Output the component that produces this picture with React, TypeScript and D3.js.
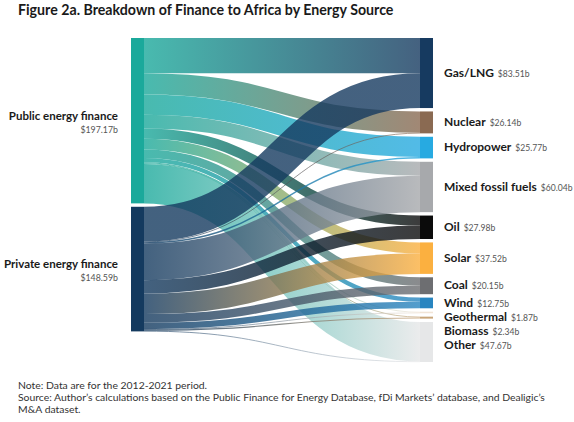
import { useEffect, useRef } from 'react';
import * as d3 from 'd3';

const title = 'Figure 2a. Breakdown of Finance to Africa by Energy Source';

const sources = ['Public energy finance', 'Private energy finance'];
const sourceTotals = ['$197.17b', '$148.59b'];
const sourceColors = ['#1ba99b', '#143a5f'];

const targets = ['Gas/LNG', 'Nuclear', 'Hydropower', 'Mixed fossil fuels', 'Oil', 'Solar', 'Coal', 'Wind', 'Geothermal', 'Biomass', 'Other'];
const targetTotals = ['$83.51b', '$26.14b', '$25.77b', '$60.04b', '$27.98b', '$37.52b', '$20.15b', '$12.75b', '$1.87b', '$2.34b', '$47.67b'];
const targetColors = ['#163a60', '#8a6a52', '#27aae1', '#a7a9ac', '#0b0b0b', '#fbb040', '#6d6e71', '#2885c0', '#f1e4d6', '#c8a57a', '#e6e7e8'];

// flows per target, same order as targets
const publicFlows = [42.0, 25.5, 24.0, 16.5, 12.0, 13.0, 10.0, 5.0, 1.2, 1.0, 46.97];
const privateFlows = [41.51, 0.64, 1.77, 43.54, 15.98, 24.52, 10.15, 7.75, 0.67, 1.34, 0.7];

const notes = [
  'Note: Data are for the 2012-2021 period.',
  "Source: Author\u2019s calculations based on the Public Finance for Energy Database, fDi Markets\u2019 database, and Dealigic\u2019s",
  'M&A dataset.',
];

export default function App() {
  const svgRef = useRef<SVGSVGElement>(null);

  useEffect(() => {
    if (!svgRef.current) return;
    const width = 574;
    const height = 422;
    const top = 38;
    const bottom = 362;
    const leftX = 131;
    const rightX = 420;
    const nodeW = 13;
    const pad = 3.4;
    const font = 'Lato, "Open Sans", sans-serif';

    d3.select(svgRef.current).selectAll('*').remove();
    const svg = d3.select(svgRef.current)
      .attr('width', width)
      .attr('height', height);

    svg.append('rect').attr('width', width).attr('height', height).attr('fill', '#fff');

    const flows = [publicFlows, privateFlows];
    const srcValues = flows.map(f => d3.sum(f));
    const tgtValues = targets.map((_, i) => publicFlows[i] + privateFlows[i]);

    const k = (bottom - top - (targets.length - 1) * pad) / d3.sum(tgtValues);
    const y = d3.scaleLinear().domain([0, 1]).range([0, k]);

    // node positions
    const srcNodes: { y0: number; y1: number }[] = [];
    let cy = top;
    srcValues.forEach(v => {
      srcNodes.push({ y0: cy, y1: cy + y(v) });
      cy += y(v) + pad;
    });
    const tgtNodes: { y0: number; y1: number }[] = [];
    cy = top;
    tgtValues.forEach(v => {
      tgtNodes.push({ y0: cy, y1: cy + y(v) });
      cy += y(v) + pad;
    });

    // link offsets
    const srcOffset = srcNodes.map(n => n.y0);
    const tgtOffset = tgtNodes.map(n => n.y0);
    const links: { s: number; t: number; w: number; ys: number; yt: number }[] = [];
    flows.forEach((f, s) => {
      f.forEach((v, t) => {
        const w = y(v);
        links.push({ s, t, w, ys: srcOffset[s] + w / 2, yt: 0 });
        srcOffset[s] += w;
      });
    });
    links.forEach(l => {
      l.yt = tgtOffset[l.t] + l.w / 2;
      tgtOffset[l.t] += l.w;
    });

    const defs = svg.append('defs');
    links.forEach(l => {
      const g = defs.append('linearGradient')
        .attr('id', `grad-${l.s}-${l.t}`)
        .attr('gradientUnits', 'userSpaceOnUse')
        .attr('x1', leftX + nodeW)
        .attr('x2', rightX);
      g.append('stop').attr('offset', '0%').attr('stop-color', sourceColors[l.s]);
      g.append('stop').attr('offset', '100%').attr('stop-color', targetColors[l.t]);
    });

    const linkGen = d3.linkHorizontal<any, [number, number]>()
      .source(d => d[0])
      .target(d => d[1]);

    svg.append('g')
      .attr('fill', 'none')
      .selectAll('path')
      .data(links)
      .join('path')
      .attr('d', l => linkGen([[leftX + nodeW, l.ys], [rightX, l.yt]] as any))
      .attr('stroke', l => `url(#grad-${l.s}-${l.t})`)
      .attr('stroke-opacity', 0.8)
      .attr('stroke-width', l => Math.max(0.8, l.w));

    // nodes
    svg.append('g')
      .selectAll('rect')
      .data(srcNodes)
      .join('rect')
      .attr('x', leftX)
      .attr('y', d => d.y0)
      .attr('width', nodeW)
      .attr('height', d => d.y1 - d.y0)
      .attr('fill', (_, i) => sourceColors[i]);

    svg.append('g')
      .selectAll('rect')
      .data(tgtNodes)
      .join('rect')
      .attr('x', rightX)
      .attr('y', d => d.y0)
      .attr('width', nodeW)
      .attr('height', d => Math.max(1, d.y1 - d.y0))
      .attr('fill', (_, i) => targetColors[i]);

    // left labels
    const leftLab = svg.append('g')
      .selectAll('g')
      .data(srcNodes)
      .join('g')
      .attr('transform', d => `translate(${leftX - 13},${(d.y0 + d.y1) / 2})`);
    leftLab.append('text')
      .attr('text-anchor', 'end')
      .attr('y', -1)
      .attr('font-family', font)
      .attr('font-weight', 700)
      .attr('font-size', 11.5)
      .attr('fill', '#1a1a1a')
      .text((_, i) => sources[i]);
    leftLab.append('text')
      .attr('text-anchor', 'end')
      .attr('y', 12)
      .attr('font-family', font)
      .attr('font-size', 8.8)
      .attr('fill', '#555')
      .text((_, i) => sourceTotals[i]);

    // right labels, nudged apart where nodes are thin
    const labelY: number[] = [];
    tgtNodes.forEach((n, i) => {
      const c = (n.y0 + n.y1) / 2 - 2;
      labelY.push(i === 0 ? c : Math.max(c, labelY[i - 1] + 14));
    });
    const rightLab = svg.append('g')
      .selectAll('text')
      .data(tgtNodes)
      .join('text')
      .attr('x', rightX + nodeW + 11)
      .attr('y', (_, i) => labelY[i])
      .attr('dy', '0.35em')
      .attr('font-family', font);
    rightLab.append('tspan')
      .attr('font-weight', 700)
      .attr('font-size', 12)
      .attr('fill', '#1a1a1a')
      .text((_, i) => targets[i]);
    rightLab.append('tspan')
      .attr('dx', 4)
      .attr('font-size', 8.6)
      .attr('fill', '#555')
      .text((_, i) => targetTotals[i]);

    // title
    svg.append('text')
      .attr('x', 18)
      .attr('y', 15)
      .attr('font-family', font)
      .attr('font-weight', 700)
      .attr('font-size', 14.2)
      .attr('fill', '#1a1a1a')
      .text(title);

    // footnotes
    svg.append('g')
      .selectAll('text')
      .data(notes)
      .join('text')
      .attr('x', 18)
      .attr('y', (_, i) => 389 + i * 12)
      .attr('font-family', font)
      .attr('font-size', 10.4)
      .attr('fill', '#333')
      .text(d => d);
  }, []);

  return (
    <svg ref={svgRef} style={{ position: 'absolute', left: 0, top: 0, display: 'block' }}></svg>
  );
}
